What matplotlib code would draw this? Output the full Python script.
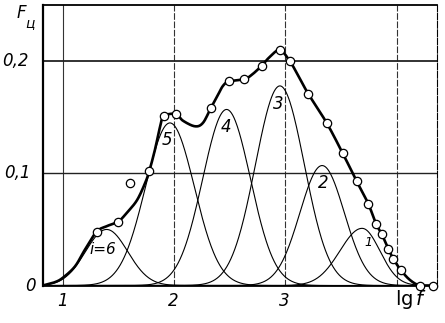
import numpy as np
import matplotlib
matplotlib.use("Agg")
import matplotlib.pyplot as plt
from matplotlib.transforms import blended_transform_factory

# component bands i = 1..6
comp_labels = ["1", "2", "3", "4", "5", "i=6"]
comp_center = [3.69, 3.33, 2.95, 2.47, 1.96, 1.39]
comp_height = [0.051, 0.107, 0.178, 0.157, 0.145, 0.050]
comp_sig_left = [0.20, 0.20, 0.22, 0.215, 0.22, 0.19]
comp_sig_right = [0.16, 0.20, 0.22, 0.215, 0.22, 0.19]
comp_label_x = [3.743, 3.337, 2.933, 2.464, 1.933, 1.355]
comp_label_y = [0.0388, 0.0913, 0.162, 0.141, 0.130, 0.032]

# total curve F_ц (lg f, value)
env_lgf = [0.815, 0.925, 0.997, 1.105, 1.195, 1.30, 1.393, 1.495, 1.573, 1.663,
           1.735, 1.774, 1.825, 1.870, 1.906, 2.014, 2.077, 2.185, 2.257, 2.327,
           2.383, 2.437, 2.494, 2.629, 2.698, 2.786, 2.860, 2.950, 3.040, 3.121,
           3.205, 3.371, 3.515, 3.641, 3.745, 3.815, 3.866, 3.925, 3.970, 4.037,
           4.12, 4.211, 4.330]
env_F = [0.0, 0.003, 0.007, 0.017, 0.032, 0.048, 0.053, 0.057, 0.065, 0.076,
         0.091, 0.102, 0.121, 0.141, 0.151, 0.153, 0.147, 0.142, 0.145, 0.158,
         0.168, 0.178, 0.182, 0.184, 0.188, 0.196, 0.204, 0.210, 0.200, 0.186,
         0.171, 0.145, 0.118, 0.093, 0.073, 0.055, 0.046, 0.033, 0.024, 0.014,
         0.005, 0.0, 0.0]

# measured points
pts_lgf = [1.30, 1.495, 1.60, 1.774, 1.906, 2.014, 2.327, 2.494, 2.629, 2.786,
           2.950, 3.040, 3.205, 3.371, 3.515, 3.641, 3.745, 3.815, 3.866, 3.925,
           3.970, 4.037, 4.211, 4.330]
pts_F = [0.048, 0.057, 0.091, 0.102, 0.151, 0.153, 0.158, 0.182, 0.184, 0.196,
         0.210, 0.200, 0.171, 0.145, 0.118, 0.093, 0.073, 0.055, 0.046, 0.033,
         0.024, 0.014, 0.0, 0.0]

x_ticks = [1, 2, 3]
y_ticks = [0, 0.1, 0.2]
y_tick_labels = ["0", "0,1", "0,2"]


def smooth_path(x, y, n=12):
    # catmull-rom through the read points, only for drawing
    x = np.asarray(x, float)
    y = np.asarray(y, float)
    px = np.concatenate([[x[0]], x, [x[-1]]])
    py = np.concatenate([[y[0]], y, [y[-1]]])
    t = np.linspace(0, 1, n, endpoint=False)
    ox, oy = [], []
    for i in range(1, len(px) - 2):
        for p, o in ((px, ox), (py, oy)):
            p0, p1, p2, p3 = p[i - 1], p[i], p[i + 1], p[i + 2]
            o.extend(0.5 * (2 * p1 + (-p0 + p2) * t + (2 * p0 - 5 * p1 + 4 * p2 - p3) * t ** 2
                            + (-p0 + 3 * p1 - 3 * p2 + p3) * t ** 3))
    ox.append(x[-1])
    oy.append(y[-1])
    return np.array(ox), np.array(oy)


fig = plt.figure(figsize=(4.45, 3.23), dpi=100)
ax = fig.add_axes([0.096, 0.116, 0.885, 0.868])
ax.set_xlim(0.815, 4.36)
ax.set_ylim(0, 0.25)

# grid
for xv in [1, 2, 3, 4]:
    ls = '-' if xv == 1 else (0, (6, 1.5))
    ax.axvline(xv, color='#333333', lw=0.8, ls=ls, zorder=1)
ax.axhline(0.1, color='#222222', lw=1.0, zorder=1)
ax.axhline(0.2, color='#222222', lw=1.3, zorder=1)

# components
xs = np.linspace(0.815, 4.36, 600)
for c, h, sl, sr in zip(comp_center, comp_height, comp_sig_left, comp_sig_right):
    sig = np.where(xs < c, sl, sr)
    ax.plot(xs, h * np.exp(-(xs - c) ** 2 / (2 * sig ** 2)), color='black', lw=0.8, zorder=2)

for lab, lx, ly in zip(comp_labels, comp_label_x, comp_label_y):
    fs = 9 if lab == "1" else (11 if lab == "i=6" else 12)
    ax.text(lx, ly, lab, fontsize=fs, style='italic', ha='center', va='center', zorder=3)

# total curve + points
sx, sy = smooth_path(env_lgf, env_F)
ax.plot(sx, np.clip(sy, 0, None), color='black', lw=1.9, zorder=4, solid_capstyle='round')
ax.plot(pts_lgf, pts_F, 'o', ms=6, mfc='white', mec='black', mew=0.9, zorder=5, clip_on=False)

# frame
ax.spines['left'].set_linewidth(1.6)
ax.spines['top'].set_linewidth(1.3)
ax.spines['bottom'].set_linewidth(1.3)
ax.spines['right'].set_linewidth(0.8)
ax.spines['right'].set_linestyle((0, (6, 1.5)))
ax.set_xticks([])
ax.set_yticks([])

# tick labels
ty = blended_transform_factory(ax.transAxes, ax.transData)
tx = blended_transform_factory(ax.transData, ax.transAxes)
for v, lab, px in zip(y_ticks, y_tick_labels, [-0.032, -0.065, -0.07]):
    ax.text(px, v, lab, transform=ty, fontsize=12, style='italic', ha='center', va='center')
for v in x_ticks:
    ax.text(v - 0.01, -0.056, str(v), transform=tx, fontsize=12, style='italic', ha='center', va='center')
ax.text(4.13, -0.05, r'lg$\,f$', transform=tx, fontsize=14, ha='center', va='center')
ax.text(-0.055, 0.243, 'F', transform=ty, fontsize=12, style='italic', ha='center', va='center')
ax.text(-0.033, 0.234, 'ц', transform=ty, fontsize=10, style='italic', ha='center', va='center')

fig.savefig('out.png', dpi=100)
